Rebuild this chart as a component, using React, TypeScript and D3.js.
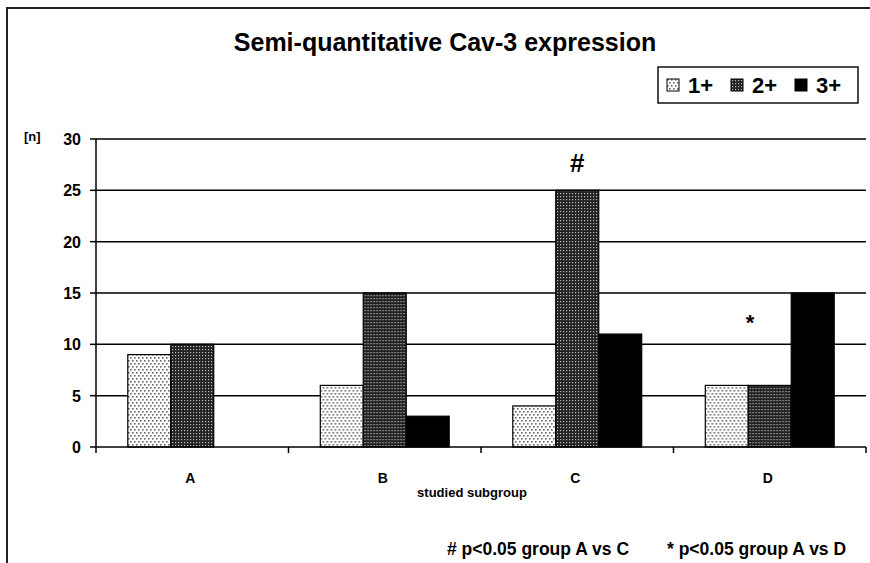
import React from "react";
import * as d3 from "d3";

const groups = ["A", "B", "C", "D"];
const grades = ["1+", "2+", "3+"];
const grade1 = [9, 6, 4, 6];
const grade2 = [10, 15, 25, 6];
const grade3 = [0, 3, 11, 15];
const yTicks = [0, 5, 10, 15, 20, 25, 30];

const W = 870;
const H = 563;
const font = "'Liberation Sans', Arial, sans-serif";

const fills = ["url(#pat1)", "url(#pat2)", "#000"];

const App = () => {
  const series = [grade1, grade2, grade3];
  const x = d3.scaleBand<string>().domain(groups).range([96, 866]).padding(0);
  const xs = d3
    .scaleBand<string>()
    .domain(grades)
    .range([0, x.bandwidth()])
    .paddingInner(0)
    .paddingOuter(0.74);
  const y = d3.scaleLinear().domain([0, 30]).range([447, 139]);
  const x0 = x.range()[0];
  const x1 = x.range()[1];

  return (
    <svg
      width={W}
      height={H}
      style={{ position: "absolute", left: 0, top: 0, background: "#fff" }}
      fontFamily={font}
    >
      <defs>
        <pattern id="pat1" width={4} height={6} patternUnits="userSpaceOnUse">
          <rect width={4} height={6} fill="#fff" />
          <rect x={0} y={0} width={1.6} height={1.6} fill="#666" />
          <rect x={2} y={3} width={1.6} height={1.6} fill="#666" />
        </pattern>
        <pattern id="pat2" width={3} height={3} patternUnits="userSpaceOnUse">
          <rect width={3} height={3} fill="#222" />
          <rect x={1} y={1} width={1.2} height={1.2} fill="#bbb" />
        </pattern>
      </defs>

      {/* outer frame */}
      <rect x={7} y={8} width={W + 10} height={H + 10} fill="none" stroke="#222" strokeWidth={2} />

      <text x={445} y={51} textAnchor="middle" fontSize={25} fontWeight="bold">
        Semi-quantitative Cav-3 expression
      </text>

      {/* legend */}
      <rect x={658} y={67} width={200} height={36} fill="#fff" stroke="#111" strokeWidth={1.5} />
      {grades.map((g, i) => (
        <g key={g} transform={`translate(${667 + i * 64},85)`}>
          <rect x={0} y={-6} width={12} height={12} fill={fills[i]} stroke="#000" strokeWidth={1} />
          <text x={21} y={8} fontSize={22} fontWeight="bold">
            {g}
          </text>
        </g>
      ))}

      {/* grid lines + y axis */}
      {yTicks.map((t) => (
        <g key={t}>
          {t > 0 && <line x1={x0} x2={x1} y1={y(t)} y2={y(t)} stroke="#000" strokeWidth={1.5} />}
          <line x1={90} x2={x0} y1={y(t)} y2={y(t)} stroke="#000" strokeWidth={1.5} />
          <text x={81} y={y(t) + 6} textAnchor="end" fontSize={16} fontWeight="bold">
            {t}
          </text>
        </g>
      ))}
      <text x={24} y={141} fontSize={13} fontWeight="bold">
        [n]
      </text>

      {/* bars */}
      {groups.map((gName, gi) => (
        <g key={gName} transform={`translate(${x(gName)},0)`}>
          {grades.map((gr, si) => {
            const v = series[si][gi];
            if (!v) return null;
            return (
              <rect
                key={gr}
                x={xs(gr)}
                y={y(v)}
                width={xs.bandwidth()}
                height={y(0) - y(v)}
                fill={fills[si]}
                stroke="#000"
                strokeWidth={1.2}
              />
            );
          })}
        </g>
      ))}

      {/* axes lines */}
      <line x1={x0} x2={x0} y1={y(30)} y2={y(0)} stroke="#000" strokeWidth={1.5} />
      <line x1={x0} x2={x1} y1={y(0)} y2={y(0)} stroke="#000" strokeWidth={1.5} />
      {[...groups.map((g) => x(g) as number), x1].map((t, i) => (
        <line key={i} x1={t} x2={t} y1={y(0)} y2={y(0) + 6} stroke="#000" strokeWidth={1.5} />
      ))}
      {groups.map((g) => (
        <text
          key={g}
          x={(x(g) as number) + x.bandwidth() / 2 - 2}
          y={483}
          textAnchor="middle"
          fontSize={14}
          fontWeight="bold"
        >
          {g}
        </text>
      ))}
      <text x={472} y={497} textAnchor="middle" fontSize={13} fontWeight="bold">
        studied subgroup
      </text>

      {/* significance marks */}
      <text x={(x("C") as number) + (xs("2+") as number) + xs.bandwidth() / 2} y={172} textAnchor="middle" fontSize={26} fontWeight="bold">
        #
      </text>
      <text x={750} y={330} textAnchor="middle" fontSize={22} fontWeight="bold">
        *
      </text>

      <text x={447} y={555} fontSize={17.5} fontWeight="bold">
        # p&lt;0.05 group A vs C
      </text>
      <text x={667} y={555} fontSize={17.5} fontWeight="bold">
        * p&lt;0.05 group A vs D
      </text>
    </svg>
  );
};

export default App;
